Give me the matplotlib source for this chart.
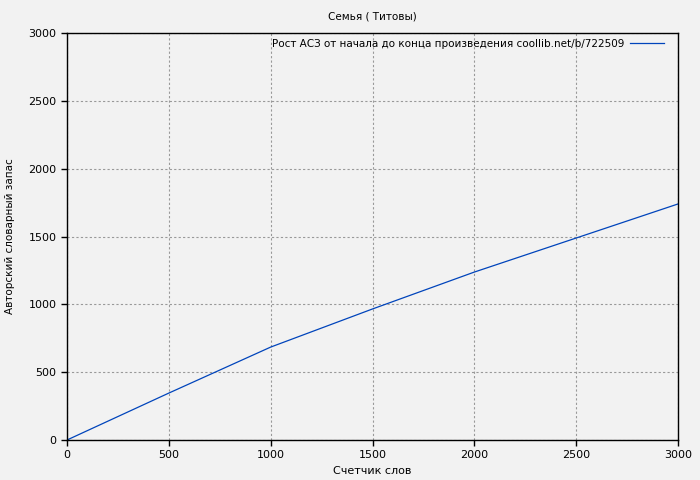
import matplotlib
matplotlib.use('Agg')
import matplotlib.pyplot as plt

# word counter vs author vocabulary
words = [0, 500, 1000, 1500, 2000, 2500, 3000]
vocab = [0, 346, 685, 966, 1238, 1489, 1740]

title = 'Семья ( Титовы)'
legend_label = 'Рост АСЗ от начала до конца произведения coollib.net/b/722509'

plt.rcParams['font.family'] = ['DejaVu Sans']
plt.rcParams['font.size'] = 8

fig = plt.figure(figsize=(7, 4.8), dpi=100, facecolor='#f2f2f2')
ax = fig.add_axes([0.0957, 0.0833, 0.8729, 0.8479], facecolor='#f2f2f2')

ax.plot(words, vocab, color='#0044bb', linewidth=0.9, label=legend_label)

ax.set_xlim(0, 3000)
ax.set_ylim(0, 3000)
ax.set_xticks(range(0, 3001, 500))
ax.set_yticks(range(0, 3001, 500))
ax.grid(True, color='#999999', linestyle=(0, (2, 2)), linewidth=0.8)
ax.tick_params(direction='out', length=4, width=1, labelsize=8, colors='black')
for s in ax.spines.values():
    s.set_linewidth(1)

ax.set_title(title, fontsize=7.5, pad=10)
ax.set_xlabel('Счетчик слов', fontsize=8, labelpad=4)
ax.set_ylabel('Авторский словарный запас', fontsize=7.5, labelpad=10)

leg = ax.legend(loc='upper right', bbox_to_anchor=(0.987, 1.0), frameon=False,
                fontsize=7.5, markerfirst=False, handlelength=3.3,
                handletextpad=0.5, borderaxespad=0, borderpad=0.55)

fig.savefig('out.png', dpi=100, facecolor=fig.get_facecolor())
